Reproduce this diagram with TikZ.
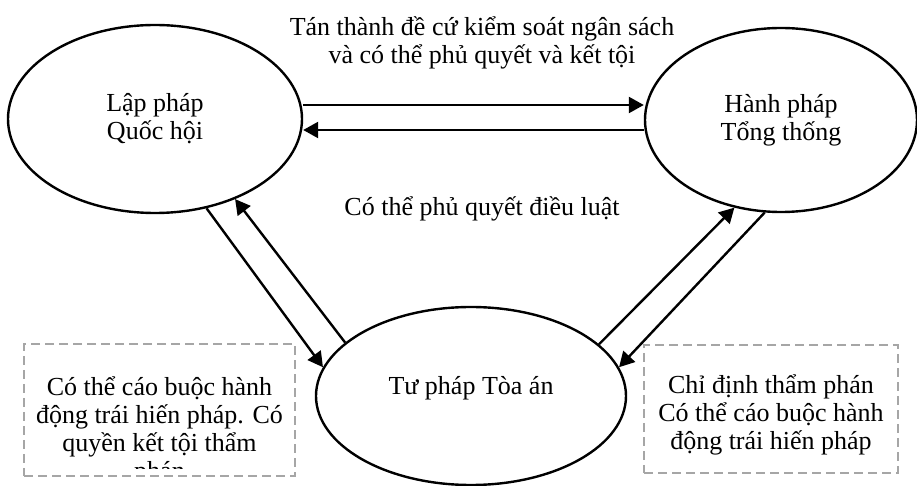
\documentclass[tikz,border=0pt]{standalone}
\usepackage{fontspec}
\setmainfont{Liberation Serif}
\usetikzlibrary{positioning}
\usetikzlibrary{shapes.geometric}
\usetikzlibrary{arrows.meta}
\definecolor{notegray}{RGB}{166,166,166}

\begin{document}
\begin{tikzpicture}[x=0.5pt,y=-0.5pt,
 txt/.style={font=\fontsize{13pt}{13.9pt}\selectfont,align=center,inner sep=0pt},
 branch/.style={ellipse,draw,line width=1.2pt,txt},
 arr/.style={-{Triangle[length=7.5pt,width=8pt]},line width=1.2pt},
 notebox/.style={draw=notegray,line width=1.3pt,dash pattern=on 4.5pt off 2.5pt,inner sep=0pt}]
 \useasboundingbox (0,0) rectangle (917,486);
 % the three branches
 \node[branch,minimum width=147pt,minimum height=94pt](leg) at (155,119){Lập pháp\\Quốc hội};
 \node[branch,minimum width=136pt,minimum height=92pt](exe) at (781,120){Hành pháp\\Tổng thống};
 \node[branch,minimum width=155pt,minimum height=89pt,text depth=11pt](jud) at (471,396){Tư pháp Tòa án};
 % labels
 \node[txt](budget) at (482,43){Tán thành đề cứ kiểm soát ngân sách\\và có thể phủ quyết và kết tội};
 \node[txt](lawveto) at (482,209){Có thể phủ quyết điều luật};
 % arrows
 \draw[arr] ([yshift=7pt]leg.east) -- ([yshift=7.5pt]exe.west);
 \draw[arr] ([yshift=-5pt]exe.west) -- ([yshift=-5.5pt]leg.east);
 \draw[arr] (leg.-60) -- (jud.169);
 \draw[arr] (jud.157.5) -- (leg.-45);
 \draw[arr] (jud.22) -- (exe.-118.6);
 \draw[arr] (exe.-100) -- (jud.11);
 % notes
 \node[notebox,minimum width=135.5pt,minimum height=66pt](lnote) at (159.5,410){};
 \begin{scope}
  \clip (lnote.north west) rectangle ([yshift=4.5pt]lnote.south east);
  \node[txt](lnotetext) at (159.5,431){Có thể cáo buộc hành\\động trái hiến pháp. Có\\quyền kết tội thẩm\\phán};
 \end{scope}
 \node[notebox,minimum width=127pt,minimum height=64pt](rnote) at (771,409){};
 \node[txt](rnotetext) at (771,415){Chỉ định thẩm phán\\Có thể cáo buộc hành\\động trái hiến pháp};
\end{tikzpicture}
\end{document}
